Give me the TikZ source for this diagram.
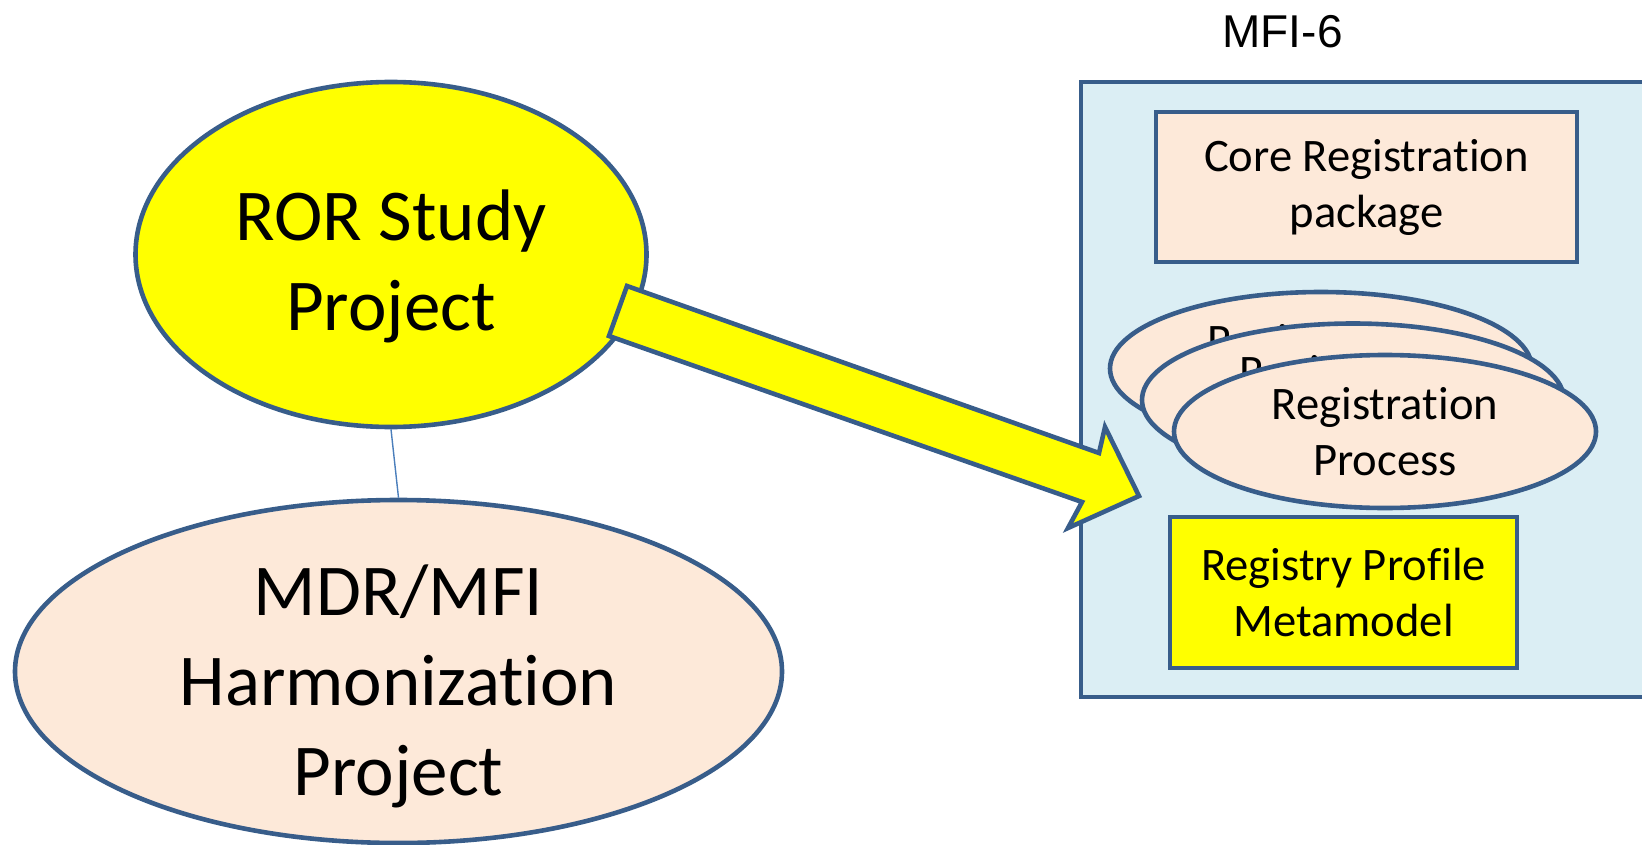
\documentclass[tikz,border=0pt]{standalone}
\usepackage{fontspec}
\setmainfont{Carlito}[Ligatures={NoCommon,NoRare,NoContextual}]
\newfontfamily\arialfont{Liberation Sans}
\usetikzlibrary{shapes.geometric}
\definecolor{linecol}{HTML}{385D8A}
\definecolor{conncol}{HTML}{4A7EBB}
\definecolor{peach}{HTML}{FDE9D9}
\definecolor{paleblue}{HTML}{DBEEF4}
\definecolor{hilite}{RGB}{255,255,0}
\tikzset{
  outline/.style={draw=linecol, line width=2.3pt},
  project/.style={ellipse, outline, inner sep=-10pt, align=center, font=\fontsize{36.5}{45}\selectfont},
  process/.style={ellipse, outline, fill=peach, inner sep=0pt, minimum width=211pt, minimum height=76.5pt, align=center, font=\fontsize{23.3}{28}\selectfont},
  pkgbox/.style={rectangle, outline, inner sep=0pt, minimum height=75pt, align=center, font=\fontsize{23.3}{28}\selectfont},
}
\begin{document}
\begin{tikzpicture}[x=0.5pt,y=-0.5pt]
  \useasboundingbox (0,0) rectangle (1642,845);
  \clip (0,0) rectangle (1642,845);
  % MFI-6 frame
  \draw[outline, line width=2.4pt, fill=paleblue] (1081,82) rectangle (1700,697);
  \node[font=\arialfont\fontsize{23}{28}\selectfont] (mfi) at (1282.5,31.5) {MFI-6};
  \node[pkgbox, fill=peach, minimum width=210.5pt] (core) at (1366.5,187) {Core Registration\\package};
  \foreach \i in {2,1,0}
    \node[process] (proc\i) at ({1385-32*\i},{431.5-31.5*\i}) {Registration\\Process};
  \node[pkgbox, fill=hilite, minimum width=173.5pt, minimum height=75.5pt] (profile) at (1343.5,592.5) {Registry Profile\\Metamodel};
  % projects
  \node[project, fill=peach, minimum width=383.5pt, minimum height=171.5pt] (mdr) at (398.5,671.5) {\rule{0pt}{40.5pt}MDR/MFI\\Harmonization\\Project};
  \node[project, fill=hilite, minimum width=255.5pt, minimum height=172.5pt] (ror) at (391,254.5) {\rule{0pt}{37pt}ROR Study\\Project};
  \draw[conncol, line width=0.7pt] (ror.south) -- (mdr.north);
  % block arrow
  \draw[outline, fill=hilite] (627,286) -- (1099,453) -- (1105,427) -- (1139,496) -- (1068,528) -- (1082,502) -- (609,336) -- cycle;
\end{tikzpicture}
\end{document}
